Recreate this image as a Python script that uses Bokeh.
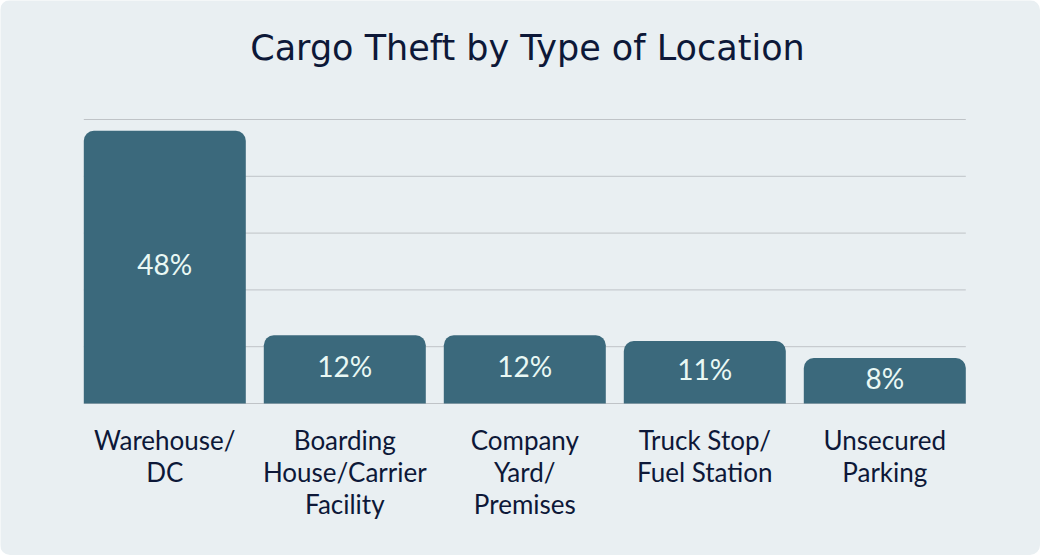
from bokeh.plotting import figure
from bokeh.models import ColumnDataSource, Range1d
from bokeh.core.properties import value
from bokeh.embed import file_html
from bokeh.resources import INLINE

categories = ["Warehouse/\nDC", "Boarding\nHouse/Carrier\nFacility", "Company\nYard/\nPremises",
              "Truck Stop/\nFuel Station", "Unsecured\nParking"]
values = [48, 12, 12, 11, 8]
value_labels = ["48%", "12%", "12%", "11%", "8%"]
grid_ticks = [0, 10, 20, 30, 40, 50]
title_text = "Cargo Theft by Type of Location"

CARD = "#e9eff2"
BAR = "#3b697c"
NAVY = "#0d1838"
GRID = "#bfc3c7"

# canvas geometry (pixels)
W, H = 1040, 555
frame_left = 83.3          # left edge of first bar / grid start
unit_px = 180.0            # pixels per category
base_px = 403.0            # pixel row of the 0 line
px_per_val = 284.0 / 50.0  # pixels per percentage point

x0 = -0.45 - frame_left / unit_px
y0 = -(H - base_px) / px_per_val
x_range = Range1d(x0, x0 + W / unit_px)
y_range = Range1d(y0, y0 + H / px_per_val)

p = figure(width=W, height=H, output_backend="svg", toolbar_location=None,
           x_range=x_range, y_range=y_range,
           x_axis_location=None, y_axis_location=None,
           min_border=0)
p.xgrid.visible = False
p.ygrid.visible = False
p.background_fill_color = CARD
p.border_fill_color = CARD
p.outline_line_color = None
p.styles = {"border-radius": "10px", "overflow": "hidden"}

n = len(values)
xs = list(range(n))

# horizontal gridlines spanning the bar area
p.segment(x0=[-0.45] * len(grid_ticks), x1=[n - 0.55] * len(grid_ticks), y0=grid_ticks, y1=grid_ticks,
          line_color=GRID, line_width=1)

src = ColumnDataSource(dict(x=xs, top=values, mid=[v / 2 for v in values], lab=value_labels))
p.vbar(x="x", top="top", bottom=0, width=0.9, source=src, fill_color=BAR, line_color=None,
       border_radius=(10, 10, 0, 0))

p.text(x="x", y="mid", text="lab", source=src, text_align="center", text_baseline="middle",
       text_color="#e9f8f4", text_font_size="28px", text_font=value("Lato"), y_offset=-3)

# title
p.text(x=[x0 + 527 / unit_px], y=[(base_px - 47.5) / px_per_val], text=[title_text],
       text_align="center", text_baseline="alphabetic",
       text_color=NAVY, text_font_size="35px", text_font=value("DejaVu Sans"))

# category labels, one line at a time
lx, ly, lt = [], [], []
for i, c in enumerate(categories):
    for j, line in enumerate(c.split("\n")):
        lx.append(i)
        ly.append(-(439.5 + 32 * j - base_px) / px_per_val)
        lt.append(line)
p.text(x=lx, y=ly, text=lt, text_align="center", text_baseline="alphabetic",
       text_color=NAVY, text_font_size="26px", text_font=value("Lato"))

open("out.html", "w").write(file_html(p, INLINE))
